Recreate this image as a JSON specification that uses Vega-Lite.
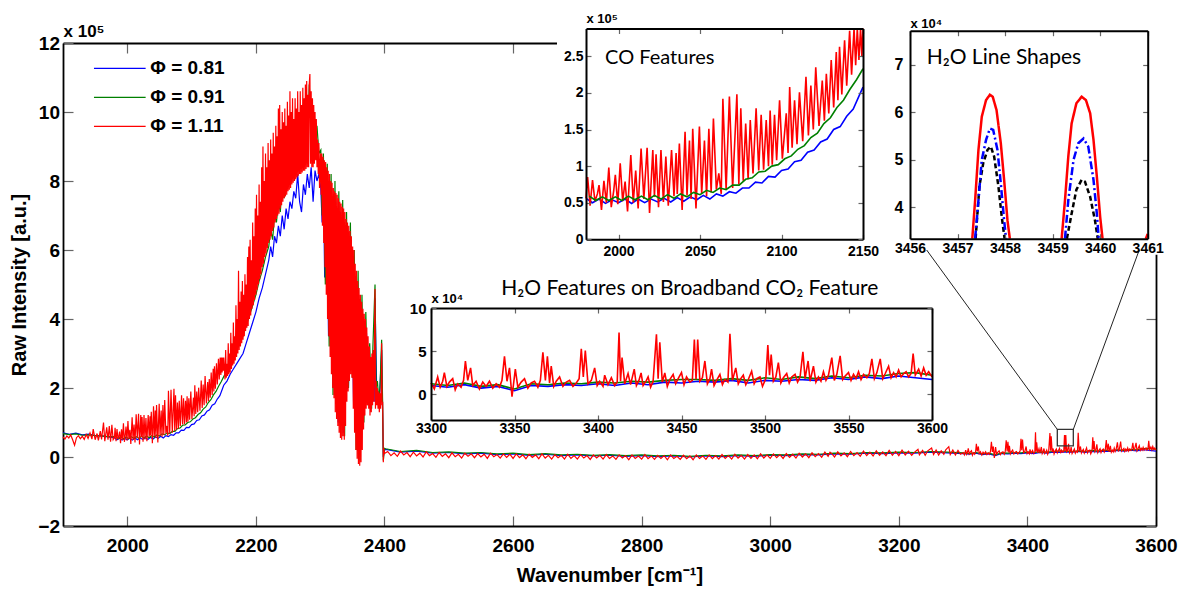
{
"$schema": "https://vega.github.io/schema/vega-lite/v6.json",
"width": 1093, "height": 483,
"autosize": {"type": "none"},
"padding": {"left": 63, "top": 43, "right": 32, "bottom": 65},
"background": "white",
"config": {
 "view": {"stroke": null},
 "font": "Liberation Sans",
 "axis": {"grid": false, "labelFlush": false, "labelOverlap": false, "domainColor": "#000", "tickColor": "#666", "tickWidth": 1.2, "labelColor": "#000", "titleColor": "#000", "labelFont": "Liberation Sans", "titleFont": "Liberation Sans", "labelFontWeight": "bold", "titleFontWeight": "bold"}
},
"datasets": {
"spec": [
{"wn":1900,"b":7.0,"g":6.8,"r":5.8},{"wn":1903,"r":5.2},{"wn":1906,"r":6.1},{"wn":1909,"r":5.5},{"wn":1910,"b":6.6,"g":6.5},{"wn":1912,"r":6.4},{"wn":1915,"r":5.0},{"wn":1918,"r":3.4},{"wn":1920,"b":6.9,"g":6.7},{"wn":1921,"r":5.6},{"wn":1924,"r":6.2},{"wn":1927,"r":5.3},{"wn":1930,"b":6.4,"g":6.3,"r":6.0},{"wn":1933,"r":5.1},{"wn":1936,"r":6.5},{"wn":1939,"r":5.4},{"wn":1940,"b":6.6,"g":6.4},{"wn":1942,"r":7.0},{"wn":1945,"r":5.2},{"wn":1947,"r":8.1},{"wn":1950,"b":6.2,"g":6.2,"r":5.0},{"wn":1953,"r":6.8},{"wn":1955,"r":4.8},{"wn":1958,"r":7.5},{"wn":1960,"b":6.1,"g":6.1,"r":5.1},{"wn":1963,"r":10.0},{"wn":1965,"r":4.6},{"wn":1968,"r":8.6},{"wn":1970,"b":5.8,"g":5.9,"r":5.0},{"wn":1972,"r":9.0},{"wn":1974,"r":4.4},{"wn":1976,"r":9.3},{"wn":1978,"r":5.0},
{"wn":1980,"b":5.6,"r":5.6},{"wn":1981,"r":8.5},{"wn":1982,"g":5.9},{"wn":1982.5,"r":4.6},{"wn":1984,"b":5.0,"r":8.1},{"wn":1985.5,"r":5.2},{"wn":1986,"g":5.3},{"wn":1987,"r":6.2},{"wn":1988,"b":5.5,"r":7.4},{"wn":1989.5,"r":4.0},{"wn":1990,"g":5.8},{"wn":1991,"r":8.0},{"wn":1992,"b":4.9},{"wn":1992.5,"r":5.0},{"wn":1994,"g":5.3,"r":9.8},{"wn":1995.5,"r":4.4},{"wn":1996,"b":5.4},{"wn":1997,"r":6.6},{"wn":1998,"g":5.8,"r":8.8},{"wn":1999.5,"r":4.8},{"wn":2000,"b":5.0},{"wn":2001,"r":10.4},{"wn":2002,"g":5.3},{"wn":2002.5,"r":5.2},{"wn":2004,"b":5.5,"r":7.9},{"wn":2005.5,"r":3.8},{"wn":2006,"g":5.9},{"wn":2007.5,"r":11.5},{"wn":2008,"b":4.9},{"wn":2009,"r":5.0},{"wn":2010,"g":5.4},{"wn":2010.5,"r":9.4},{"wn":2012,"b":5.5,"r":4.2},{"wn":2013.8,"r":12.4},{"wn":2014,"g":5.9},{"wn":2015.5,"r":5.5},{"wn":2016,"b":5.0},{"wn":2017.5,"r":12.5},{"wn":2018,"g":5.4},{"wn":2019,"r":3.6},{"wn":2020,"b":5.5},{"wn":2021,"r":12.2},{"wn":2022,"g":6.0,"r":5.8},{"wn":2023,"r":11.6},{"wn":2024,"b":5.1},{"wn":2024.5,"r":4.4},{"wn":2026,"g":5.5,"r":12.2},{"wn":2027.5,"r":5.1},{"wn":2028,"b":5.6},{"wn":2029,"r":11.3},{"wn":2030,"g":6.1},{"wn":2030.5,"r":4.6},{"wn":2032,"b":5.1},{"wn":2032.5,"r":12.2},{"wn":2034,"g":5.6,"r":5.9},{"wn":2035.3,"r":11.8},{"wn":2036,"b":5.7,"r":6.2},{"wn":2037.3,"r":13.1},{"wn":2038,"g":6.2},{"wn":2039,"r":4.0},{"wn":2040,"b":5.2},{"wn":2040.8,"r":14.7},{"wn":2042,"g":5.8,"r":6.0},{"wn":2043.5,"r":13.5},{"wn":2044,"b":5.8},{"wn":2044.5,"r":5.5},{"wn":2045.5,"r":15.1},{"wn":2046,"g":6.4},{"wn":2047.5,"r":4.2},{"wn":2048,"b":5.4},{"wn":2049.6,"r":15.4},{"wn":2050,"g":6.1},{"wn":2051,"r":6.2},{"wn":2052,"b":6.0},{"wn":2052.7,"r":13.5},{"wn":2054,"g":6.7,"r":5.9},{"wn":2055.4,"r":15.1},{"wn":2056,"b":5.5},{"wn":2056.8,"r":6.4},{"wn":2058,"g":6.4},{"wn":2058.2,"r":16.5},{"wn":2060,"b":6.2,"r":6.8},{"wn":2061.5,"r":9.0},{"wn":2062,"g":7.0},{"wn":2063,"r":6.2},{"wn":2064,"b":5.9,"r":19.2},{"wn":2066,"g":6.8,"r":6.8},{"wn":2068,"b":6.5,"r":19.5},{"wn":2070,"g":7.4,"r":7.0},{"wn":2072,"b":6.3},{"wn":2072.6,"r":19.8},{"wn":2073.8,"r":7.5},{"wn":2074,"g":7.4},{"wn":2075,"r":17.9},{"wn":2076,"b":7.0},{"wn":2076.5,"r":8.0},{"wn":2078,"g":8.2,"r":15.8},{"wn":2079.5,"r":8.2},{"wn":2080,"b":7.0},{"wn":2080.8,"r":16.3},{"wn":2082,"g":8.4},{"wn":2082.5,"r":9.0},{"wn":2084,"b":7.8},{"wn":2084.4,"r":17.9},{"wn":2086,"g":9.2,"r":9.4},{"wn":2087.5,"r":17.0},{"wn":2088,"b":7.7},{"wn":2089,"r":9.5},{"wn":2090,"g":9.3},{"wn":2090.6,"r":16.3},{"wn":2092,"b":8.6,"r":10.0},{"wn":2093,"r":17.6},{"wn":2094,"g":10.0},{"wn":2094.3,"r":10.2},{"wn":2095.7,"r":17.0},{"wn":2096,"b":8.5},{"wn":2097,"r":10.8},{"wn":2098,"g":10.2},{"wn":2098.8,"r":19.0},{"wn":2100,"b":9.4},{"wn":2100.5,"r":11.0},{"wn":2102,"g":11.0},{"wn":2102.9,"r":17.2},{"wn":2104,"b":9.6,"r":11.8},{"wn":2105,"r":20.8},{"wn":2106,"g":11.4},{"wn":2106.5,"r":12.5},{"wn":2108,"b":10.6,"r":19.0},{"wn":2109.5,"r":13.0},{"wn":2110,"g":12.3},{"wn":2111,"r":20.1},{"wn":2112,"b":10.8},{"wn":2113,"r":13.4},{"wn":2114,"g":12.8},{"wn":2115,"r":22.2},{"wn":2116,"b":11.9},{"wn":2116.5,"r":14.2},{"wn":2118,"g":13.9,"r":21.0},{"wn":2119.5,"r":15.0},{"wn":2120,"b":12.2},{"wn":2121,"r":23.5},{"wn":2122,"g":14.5},{"wn":2123,"r":15.5},{"wn":2124,"b":13.3},{"wn":2125,"r":21.7},{"wn":2126,"g":15.8},{"wn":2126.3,"r":16.2},{"wn":2127.5,"r":22.6},{"wn":2128,"b":13.7},{"wn":2129,"r":17.2},{"wn":2130,"g":16.6},{"wn":2130.5,"r":24.5},{"wn":2132,"b":15.0,"r":18.0},{"wn":2133.6,"r":25.6},{"wn":2134,"g":18.0},{"wn":2134.6,"r":19.0},{"wn":2135.6,"r":26.3},{"wn":2136,"b":15.4},{"wn":2137,"r":19.8},{"wn":2138,"g":19.0},{"wn":2138.7,"r":27.2},{"wn":2140,"b":16.8,"r":21.0},{"wn":2141.8,"r":28.5},{"wn":2142,"g":20.5},{"wn":2143,"r":22.5},{"wn":2144,"b":17.8},{"wn":2144.5,"r":28.8},{"wn":2145.5,"r":23.8},{"wn":2146,"g":21.8},{"wn":2146.5,"r":28.8},{"wn":2147.5,"r":24.5},{"wn":2148,"b":19.8},{"wn":2148.5,"r":28.8},{"wn":2149.3,"r":25.0},{"wn":2150,"b":20.8,"g":23.3,"r":28.8},
{"wn":2152,"r":22.5},{"wn":2153,"r":31},{"wn":2154,"r":23},{"wn":2155,"b":22,"g":25,"r":27},{"wn":2156,"r":23.5},{"wn":2157,"r":33},{"wn":2158,"r":24},{"wn":2159,"r":30},{"wn":2160,"b":24,"g":27,"r":24.5},{"wn":2161,"r":36},{"wn":2162,"r":25.5},{"wn":2163,"r":33},{"wn":2164,"r":26.5},{"wn":2165,"b":25.5,"g":29,"r":39},{"wn":2166,"r":27},{"wn":2167,"r":35},{"wn":2168,"r":28},{"wn":2169,"r":44},{"wn":2170,"b":27,"g":31,"r":29},{"wn":2171,"r":40},{"wn":2172,"r":30},{"wn":2173,"r":54},{"wn":2174,"r":31},{"wn":2175,"b":28.5,"g":33,"r":45},{"wn":2176,"r":32},{"wn":2177,"r":48},{"wn":2178,"r":33},{"wn":2179,"r":51},{"wn":2180,"b":30,"g":35,"r":34},{"wn":2181,"r":47},{"wn":2182,"r":35},{"wn":2183,"r":53},{"wn":2184,"r":36.5},{"wn":2185,"b":33,"g":38,"r":50},{"wn":2186,"r":37.5},{"wn":2187,"r":58},{"wn":2188,"r":38},{"wn":2189,"r":61},{"wn":2190,"b":36,"g":41,"r":40},{"wn":2191,"r":63},{"wn":2192,"r":41},{"wn":2193,"r":57},{"wn":2194,"r":43},{"wn":2195,"b":39,"g":44,"r":68},{"wn":2196,"r":44},{"wn":2197,"r":64},{"wn":2198,"r":45.5},{"wn":2199,"r":72},{"wn":2200,"b":42,"g":47,"r":47},{"wn":2201,"r":76},{"wn":2202,"r":48.5},{"wn":2203,"r":70},{"wn":2204,"r":50},{"wn":2205,"b":46,"g":51,"r":79},{"wn":2206,"r":51.5},{"wn":2207,"r":74},{"wn":2208,"r":53},{"wn":2209,"r":84},{"wn":2210,"b":49,"g":54,"r":55},{"wn":2211,"r":90},{"wn":2212,"r":56},{"wn":2213,"r":80},{"wn":2214,"r":58},{"wn":2215,"b":53,"g":58,"r":88},{"wn":2216,"r":59},{"wn":2217,"r":84},{"wn":2218,"r":60.5},{"wn":2219,"r":91},{"wn":2220,"b":57,"g":61,"r":62},{"wn":2221,"r":86},{"wn":2222,"r":63},{"wn":2223,"b":61,"g":66,"r":92},{"wn":2224,"r":64},{"wn":2225,"r":88},{"wn":2226,"b":58,"g":63,"r":65.5},{"wn":2227,"r":94},{"wn":2228,"r":66.5},{"wn":2229,"b":64,"g":70,"r":90},{"wn":2230,"r":68},{"wn":2231,"r":96},{"wn":2232,"b":62,"g":68,"r":69},{"wn":2233,"r":93},{"wn":2234,"r":70},{"wn":2235,"b":67,"g":74,"r":101},{"wn":2236,"r":70.5},{"wn":2237,"r":102},{"wn":2238,"b":64,"g":71,"r":72},{"wn":2239,"r":95},{"wn":2240,"r":73},{"wn":2241,"b":70,"g":79,"r":100},{"wn":2242,"r":74},{"wn":2243,"r":97},{"wn":2244,"b":66,"g":75,"r":75},{"wn":2245,"r":101},{"wn":2246,"r":75.5},{"wn":2247,"b":72,"g":83,"r":96},{"wn":2248,"r":76},{"wn":2249,"r":103},{"wn":2250,"b":69,"g":79,"r":77},{"wn":2251,"r":99},{"wn":2252,"r":77.5},{"wn":2253,"b":74,"g":88,"r":106},{"wn":2254,"r":78},{"wn":2255,"r":100},{"wn":2256,"b":72,"g":82,"r":79},{"wn":2257,"r":104},{"wn":2258,"r":79.5},{"wn":2259,"b":77,"g":92,"r":98},{"wn":2260,"r":80},{"wn":2261,"r":104},{"wn":2262,"b":75,"g":85,"r":80.5},{"wn":2263,"r":101},{"wn":2264,"r":81},{"wn":2265,"b":82,"g":96,"r":106},{"wn":2266,"r":81.5},{"wn":2267,"r":100},{"wn":2268,"b":74,"g":86,"r":82},{"wn":2269,"r":106},{"wn":2270,"r":82},{"wn":2271,"b":71,"g":100,"r":102},{"wn":2272,"r":82.5},{"wn":2273,"r":107},{"wn":2274,"b":79,"g":88,"r":83},{"wn":2275,"r":104},{"wn":2276,"r":83},{"wn":2277,"b":76,"g":104,"r":108},{"wn":2278,"r":83.5},{"wn":2279,"r":109},{"wn":2280,"b":82,"g":90,"r":84},{"wn":2281,"r":105},{"wn":2282,"r":84},{"wn":2283,"b":78,"g":108,"r":108},{"wn":2284,"r":111},{"wn":2285,"r":85},{"wn":2286,"b":84,"g":95,"r":106},{"wn":2287,"r":84},{"wn":2288,"r":104},{"wn":2289,"b":74,"g":100,"r":84},{"wn":2290,"r":102},{"wn":2291,"r":85},{"wn":2292,"b":83,"g":92,"r":100},{"wn":2293,"r":86},{"wn":2294,"r":98},{"wn":2295,"b":80,"g":96,"r":84},{"wn":2296,"r":92},{"wn":2297,"r":82},{"wn":2298,"b":82,"g":88,"r":91},{"wn":2299,"r":78},
{"wn":2300.5,"r":88},{"wn":2301,"b":78,"g":89},{"wn":2301.5,"r":76},{"wn":2302.5,"r":88},{"wn":2303,"b":68,"g":70},{"wn":2303.5,"r":67},{"wn":2304.5,"r":87},{"wn":2305,"b":80,"g":88},{"wn":2305.5,"r":62},{"wn":2306.5,"r":86},{"wn":2307,"b":52},{"wn":2307.5,"r":55},{"wn":2308,"g":50},{"wn":2308.5,"r":85.5},{"wn":2309.5,"r":47},{"wn":2310,"b":78},{"wn":2310.5,"r":84},{"wn":2311,"g":85},{"wn":2311.5,"r":40},{"wn":2312.5,"r":83},{"wn":2313,"b":35},{"wn":2313.5,"r":35},{"wn":2314,"g":32},{"wn":2314.5,"r":82},{"wn":2315.5,"r":29},{"wn":2316,"b":76},{"wn":2316.5,"r":80},{"wn":2317,"g":82},{"wn":2317.5,"r":24},{"wn":2318.5,"r":79.5},{"wn":2319.5,"r":20},{"wn":2320,"b":20,"g":18},{"wn":2320.5,"r":78},{"wn":2321.5,"r":17},{"wn":2322.5,"r":77},{"wn":2323,"g":80},{"wn":2323.5,"r":13},{"wn":2324,"b":74},{"wn":2324.5,"r":76.5},{"wn":2325.5,"r":11},{"wn":2326,"g":12},{"wn":2326.5,"r":76},{"wn":2327.5,"r":9},{"wn":2328,"b":10},{"wn":2328.5,"r":75},{"wn":2329,"g":77},{"wn":2329.5,"r":7},{"wn":2330.5,"r":74},{"wn":2331.5,"r":5.5},{"wn":2332,"b":71,"g":6},{"wn":2332.5,"r":73.5},{"wn":2333.5,"r":5},{"wn":2334.5,"r":72.5},{"wn":2335,"g":74.5},{"wn":2335.5,"r":6},{"wn":2336,"b":7},{"wn":2336.5,"r":72},{"wn":2337.5,"r":5},{"wn":2338,"g":6},{"wn":2338.5,"r":71},{"wn":2339.5,"r":9},{"wn":2340,"b":67},{"wn":2340.5,"r":69},{"wn":2341,"g":71},{"wn":2341.5,"r":16},{"wn":2342.5,"r":68},{"wn":2343.5,"r":19},{"wn":2344,"b":20,"g":20},{"wn":2344.5,"r":67},{"wn":2345.5,"r":22},{"wn":2346.5,"r":65.5},{"wn":2347,"g":68},{"wn":2347.5,"r":24},{"wn":2348,"b":62},{"wn":2348.5,"r":64},{"wn":2349.5,"r":23},{"wn":2350,"g":23},{"wn":2350.5,"r":61},{"wn":2351.5,"r":14},{"wn":2352,"b":15},{"wn":2352.5,"r":60},{"wn":2353,"g":60},{"wn":2353.5,"r":7},{"wn":2354.5,"r":56},{"wn":2355.5,"r":2},{"wn":2356,"b":52,"g":2},{"wn":2356.5,"r":54},{"wn":2357.5,"r":-0.5},{"wn":2358.5,"r":51},{"wn":2359,"g":54},{"wn":2359.5,"r":-2},{"wn":2360,"b":2},{"wn":2360.5,"r":49},{"wn":2361.5,"r":-2.5},{"wn":2362,"g":-1},{"wn":2362.5,"r":47},{"wn":2363.5,"r":-1.5},{"wn":2364,"b":44},{"wn":2364.5,"r":45},{"wn":2365,"g":47},{"wn":2365.5,"r":2},{"wn":2366.5,"r":43},{"wn":2367.5,"r":8},{"wn":2368,"b":12,"g":10},{"wn":2368.5,"r":41.5},{"wn":2369.5,"r":12},{"wn":2370.5,"r":40},{"wn":2371,"g":42},{"wn":2371.5,"r":14},{"wn":2372,"b":36},{"wn":2372.5,"r":37.5},{"wn":2373.5,"r":15},{"wn":2374,"g":15},{"wn":2374.5,"r":35},{"wn":2375.5,"r":14},{"wn":2376,"b":15},{"wn":2376.5,"r":32},{"wn":2377,"g":33},{"wn":2377.5,"r":12},{"wn":2378.5,"r":29},{"wn":2379.5,"r":13},{"wn":2380,"b":28,"g":14},{"wn":2380.5,"r":30},{"wn":2381.5,"r":15},{"wn":2382,"g":32},{"wn":2382.5,"r":31},{"wn":2383.5,"r":16},{"wn":2384,"b":16},{"wn":2384.5,"r":35},{"wn":2385.3,"b":46,"g":50,"r":48.7},{"wn":2386,"r":14},{"wn":2387,"g":20,"r":22},{"wn":2388,"b":18,"r":15},{"wn":2389,"g":22,"r":20},{"wn":2390,"r":14},{"wn":2391,"g":17,"r":19},{"wn":2392,"b":16,"r":13},{"wn":2393,"g":20,"r":18.5},{"wn":2394,"r":14},{"wn":2395,"r":20},{"wn":2395.6,"b":31,"g":34,"r":33},{"wn":2396.3,"r":15},{"wn":2397,"g":17},{"wn":2397.2,"r":16},{"wn":2398.2,"b":0,"g":-1,"r":-1.5},{"wn":2399,"r":2.5},{"wn":2400,"b":2,"g":2.5,"r":1.0},
{"wn":2402,"b":2.2,"g":2.4},{"wn":2405,"r":1.6},{"wn":2410,"r":0.4},{"wn":2415,"r":1.2},{"wn":2420,"r":0.2},{"wn":2425,"b":1.4,"g":1.6,"r":1.7},{"wn":2430,"r":0.6},{"wn":2435,"r":1.3},{"wn":2440,"r":0.1},{"wn":2445,"r":1.4},{"wn":2450,"b":1.7,"g":1.9,"r":0.3},{"wn":2455,"r":1.1},{"wn":2460,"r":0.0},{"wn":2465,"r":1.5},{"wn":2470,"r":0.4},{"wn":2475,"b":1.1,"g":1.3,"r":1.0},{"wn":2480,"r":-0.1},{"wn":2485,"r":1.3},{"wn":2490,"r":0.2},{"wn":2495,"r":0.9},{"wn":2500,"b":1.3,"g":1.5,"r":-0.2},{"wn":2505,"r":1.2},{"wn":2510,"r":0.1},{"wn":2515,"r":0.8},{"wn":2520,"r":-0.3},{"wn":2525,"b":0.9,"g":1.1,"r":1.1},{"wn":2530,"r":0.2},{"wn":2535,"r":0.9},{"wn":2540,"r":-0.2},{"wn":2545,"r":1.0},{"wn":2550,"b":1.1,"g":1.3,"r":0.0},{"wn":2555,"r":0.8},{"wn":2560,"r":-0.4},{"wn":2565,"r":1.1},{"wn":2570,"r":0.1},{"wn":2575,"b":0.7,"g":0.9,"r":0.7},{"wn":2580,"r":-0.3},{"wn":2585,"r":0.9},{"wn":2590,"r":-0.1},{"wn":2595,"r":0.8},{"wn":2600,"b":0.9,"g":1.1,"r":-0.4},{"wn":2605,"r":0.9},{"wn":2610,"r":-0.2},{"wn":2615,"r":0.6},{"wn":2620,"r":-0.5},{"wn":2625,"b":0.5,"g":0.7,"r":0.8},{"wn":2630,"r":-0.1},{"wn":2635,"r":0.6},{"wn":2640,"r":-0.5},{"wn":2645,"r":0.9},{"wn":2650,"b":0.8,"g":1.0,"r":-0.3},{"wn":2655,"r":0.5},{"wn":2660,"r":-0.6},{"wn":2665,"r":0.7},{"wn":2670,"r":-0.2},{"wn":2675,"b":0.4,"g":0.6,"r":0.5},{"wn":2680,"r":-0.6},{"wn":2685,"r":0.8},{"wn":2690,"r":-0.4},{"wn":2695,"r":0.4},{"wn":2700,"b":0.6,"g":0.8,"r":-0.6},{"wn":2705,"r":0.7},{"wn":2710,"r":-0.3},{"wn":2715,"r":0.4},{"wn":2720,"r":-0.7},{"wn":2725,"b":0.3,"g":0.5,"r":0.6},{"wn":2730,"r":-0.3},{"wn":2735,"r":0.5},{"wn":2740,"r":-0.6},{"wn":2745,"r":0.7},{"wn":2750,"b":0.5,"g":0.7,"r":-0.4},{"wn":2755,"r":0.3},{"wn":2760,"r":-0.7},{"wn":2765,"r":0.6},{"wn":2770,"r":-0.3},{"wn":2775,"b":0.2,"g":0.4,"r":0.4},{"wn":2780,"r":-0.8},{"wn":2785,"r":0.6},{"wn":2790,"r":-0.4},{"wn":2795,"r":0.3},{"wn":2800,"b":0.4,"g":0.6,"r":-0.6},{"wn":2805,"r":0.7},{"wn":2810,"r":-0.5},{"wn":2815,"r":0.3},{"wn":2820,"r":-0.7},{"wn":2825,"b":0.1,"g":0.3,"r":0.5},{"wn":2830,"r":-0.4},{"wn":2835,"r":0.4},{"wn":2840,"r":-0.8},{"wn":2845,"r":0.6},{"wn":2850,"b":0.3,"g":0.5,"r":-0.4},{"wn":2855,"r":0.2},{"wn":2860,"r":-0.7},{"wn":2865,"r":0.5},{"wn":2870,"r":-0.5},{"wn":2875,"b":0.0,"g":0.2,"r":0.3},{"wn":2880,"r":-0.8},{"wn":2885,"r":0.6},{"wn":2890,"r":-0.4},{"wn":2895,"r":0.3},{"wn":2900,"b":0.3,"g":0.5,"r":-0.7},{"wn":2905,"r":0.6},{"wn":2910,"r":-0.5},{"wn":2915,"r":0.4},{"wn":2920,"r":-0.6},{"wn":2925,"b":0.1,"g":0.3,"r":0.7},{"wn":2930,"r":-0.4},{"wn":2935,"r":0.4},{"wn":2940,"r":-0.6},{"wn":2945,"r":0.8},{"wn":2950,"b":0.4,"g":0.6,"r":-0.3},{"wn":2955,"r":0.5},{"wn":2960,"r":-0.6},{"wn":2965,"r":0.7},{"wn":2970,"r":-0.4},{"wn":2975,"b":0.2,"g":0.4,"r":0.6},{"wn":2980,"r":-0.5},{"wn":2985,"r":0.9},{"wn":2990,"r":-0.3},{"wn":2995,"r":0.6},{"wn":3000,"b":0.5,"g":0.7,"r":-0.4},{"wn":3005,"r":0.9},{"wn":3010,"r":-0.2},{"wn":3015,"r":0.7},{"wn":3020,"r":-0.4},{"wn":3025,"b":0.4,"g":0.6,"r":1.0},{"wn":3030,"r":-0.1},{"wn":3035,"r":0.8},{"wn":3040,"r":-0.3},{"wn":3045,"r":1.1},{"wn":3050,"b":0.7,"g":0.9,"r":0.0},{"wn":3055,"r":0.9},{"wn":3060,"r":-0.2},{"wn":3065,"r":1.2},{"wn":3070,"r":0.1},{"wn":3075,"b":0.6,"g":0.8,"r":1.0},{"wn":3080,"r":-0.1},{"wn":3085,"r":1.4},{"wn":3090,"r":0.2},{"wn":3093,"r":1.4},{"wn":3095,"r":1.1},{"wn":3100,"b":0.9,"g":1.1,"r":0.0},{"wn":3105,"r":1.5},{"wn":3110,"r":0.3},{"wn":3115,"r":1.2},{"wn":3120,"r":0.1},{"wn":3125,"b":0.8,"g":1.0,"r":1.6},{"wn":3130,"r":0.4},{"wn":3135,"r":1.3},{"wn":3140,"r":0.2},{"wn":3145,"r":1.7},{"wn":3150,"b":1.1,"g":1.3,"r":0.4},{"wn":3155,"r":1.4},{"wn":3160,"r":0.3},{"wn":3165,"r":1.8},{"wn":3170,"r":0.5},{"wn":3175,"b":1.0,"g":1.2,"r":1.5},{"wn":3180,"r":0.4},{"wn":3185,"r":1.9},{"wn":3190,"r":0.5},{"wn":3195,"r":1.6},{"wn":3200,"b":1.2,"g":1.4,"r":0.4},{"wn":3205,"r":2.0},{"wn":3210,"r":0.6},{"wn":3215,"r":1.7},{"wn":3220,"r":0.5},{"wn":3225,"b":1.1,"g":1.3,"r":1.5},{"wn":3229.8,"r":2.2},{"wn":3232,"r":0.6},{"wn":3237,"r":1.9},{"wn":3241,"r":0.5},{"wn":3245,"r":1.8},{"wn":3250,"b":1.4,"g":1.6},{"wn":3251,"r":2.6},{"wn":3254,"r":0.7},{"wn":3258,"r":2.0},{"wn":3262,"r":0.6},{"wn":3266,"r":1.8},{"wn":3270,"r":0.8},{"wn":3273,"r":2.1},{"wn":3275,"b":1.2,"g":1.4},{"wn":3277.7,"r":3.0},{"wn":3280,"r":0.7},{"wn":3284,"r":2.0},{"wn":3288,"r":0.6},{"wn":3292,"r":1.9},{"wn":3296,"r":0.8},
{"wn":3300,"b":1.0,"g":1.2,"r":1.3},{"wn":3302,"r":0.6},{"wn":3304,"r":2.0},{"wn":3305.5,"r":0.8},{"wn":3307,"r":1.5},{"wn":3308,"r":2.5},{"wn":3309.5,"r":0.9},{"wn":3310,"b":0.8,"g":1.0},{"wn":3311,"r":1.4},{"wn":3313,"r":1.8},{"wn":3314.5,"r":0.5},{"wn":3316,"r":1.2},{"wn":3318,"r":0.8},{"wn":3319.5,"r":1.6},{"wn":3320,"b":1.1,"g":1.3},{"wn":3320.6,"r":3.85},{"wn":3322,"r":1.6},{"wn":3323.7,"r":3.05},{"wn":3325,"r":1.0},{"wn":3327,"r":1.5},{"wn":3329,"r":0.6},{"wn":3330,"b":0.7,"g":0.9},{"wn":3331,"r":1.4},{"wn":3333,"r":0.9},{"wn":3335,"r":1.5},{"wn":3337,"r":0.7},{"wn":3339,"r":1.2},{"wn":3340,"b":0.9,"g":1.1},{"wn":3341,"r":0.8},{"wn":3342.5,"r":1.6},{"wn":3344,"r":4.4},{"wn":3345.5,"r":1.5},{"wn":3347,"r":3.05},{"wn":3348.5,"r":-0.3},{"wn":3350,"b":0.4,"g":0.6},{"wn":3350.5,"r":2.9},{"wn":3352,"r":0.8},{"wn":3354,"r":1.4},{"wn":3356,"r":1.8},{"wn":3358,"r":0.7},{"wn":3360,"b":1.0,"g":1.2,"r":1.3},{"wn":3362,"r":1.5},{"wn":3364,"r":0.8},{"wn":3365.5,"r":1.6},{"wn":3367,"r":4.85},{"wn":3368.5,"r":1.6},{"wn":3369.7,"r":4.4},{"wn":3370,"b":0.9,"g":1.1},{"wn":3371,"r":1.3},{"wn":3372,"r":3.25},{"wn":3373.5,"r":0.9},{"wn":3375,"r":1.5},{"wn":3377,"r":2.0},{"wn":3379,"r":0.9},{"wn":3380,"b":1.1,"g":1.3},{"wn":3381,"r":1.4},{"wn":3383,"r":1.6},{"wn":3385,"r":0.9},{"wn":3387,"r":1.3},{"wn":3388.7,"r":1.8},{"wn":3390,"b":1.0,"g":1.2,"r":5.25},{"wn":3391.2,"r":2.0},{"wn":3392.4,"r":5.05},{"wn":3394,"r":1.2},{"wn":3396,"r":1.6},{"wn":3398,"r":3.05},{"wn":3399.5,"r":1.0},{"wn":3400,"b":1.2,"g":1.4},{"wn":3401,"r":1.5},{"wn":3403,"r":0.9},{"wn":3404,"r":2.2},{"wn":3406,"r":1.1},{"wn":3408,"r":1.9},{"wn":3410,"b":1.0,"g":1.3,"r":1.0},{"wn":3411.5,"r":1.4},{"wn":3412.6,"r":7.14},{"wn":3413.5,"r":1.5},{"wn":3414.4,"r":4.25},{"wn":3416,"r":1.2},{"wn":3418,"r":2.4},{"wn":3419.5,"r":1.1},{"wn":3420,"b":1.3,"g":1.5},{"wn":3421.7,"r":2.9},{"wn":3423,"r":1.0},{"wn":3424.5,"r":1.6},{"wn":3425.8,"r":2.46},{"wn":3427,"r":1.0},{"wn":3429,"r":1.6},{"wn":3430,"b":1.1,"g":1.4,"r":2.0},{"wn":3431.5,"r":0.8},{"wn":3433,"r":1.5},{"wn":3435,"r":6.94},{"wn":3436,"r":1.8},{"wn":3437,"r":6.03},{"wn":3438.5,"r":1.4},{"wn":3440,"b":1.4,"g":1.6,"r":2.46},{"wn":3441.5,"r":0.9},{"wn":3443,"r":1.7},{"wn":3445,"r":2.3},{"wn":3446.5,"r":1.2},{"wn":3448,"r":1.8},{"wn":3450,"b":1.3,"g":1.7,"r":2.5},{"wn":3451.5,"r":1.1},{"wn":3453,"r":2.0},{"wn":3455,"r":1.4},{"wn":3456.5,"r":1.6},{"wn":3457.7,"r":6.35},{"wn":3458.7,"r":1.7},{"wn":3459.7,"r":6.35},{"wn":3460,"b":1.5,"g":1.7},{"wn":3461,"r":1.5},{"wn":3462.5,"r":1.9},{"wn":3464,"r":3.85},{"wn":3465.5,"r":1.2},{"wn":3467,"r":1.8},{"wn":3468,"r":2.9},{"wn":3469.5,"r":1.0},{"wn":3470,"b":1.4,"g":1.6},{"wn":3471,"r":1.6},{"wn":3473,"r":2.3},{"wn":3474.5,"r":1.1},{"wn":3476,"r":1.7},{"wn":3477.8,"r":1.4},{"wn":3479,"r":7.0},{"wn":3480,"b":1.6,"g":1.8},{"wn":3480.5,"r":1.6},{"wn":3482.5,"r":3.05},{"wn":3484,"r":1.2},{"wn":3485.5,"r":1.8},{"wn":3487,"r":2.2},{"wn":3488.5,"r":1.1},{"wn":3490,"b":1.3,"g":1.6,"r":1.7},{"wn":3492,"r":2.66},{"wn":3493.5,"r":1.2},{"wn":3495,"r":1.8},{"wn":3497,"r":2.0},{"wn":3498.5,"r":0.9},{"wn":3500,"b":1.6,"g":1.9},{"wn":3500.5,"r":1.8},{"wn":3501.7,"r":5.7},{"wn":3502.7,"r":2.2},{"wn":3503.7,"r":4.6},{"wn":3505,"r":1.5},{"wn":3506.5,"r":2.0},{"wn":3508,"r":3.65},{"wn":3509.5,"r":1.3},{"wn":3510,"b":1.5,"g":1.7},{"wn":3511,"r":1.9},{"wn":3513,"r":2.4},{"wn":3514.5,"r":1.3},{"wn":3516,"r":2.0},{"wn":3518,"r":2.3},{"wn":3519.5,"r":1.4},{"wn":3520,"b":1.7,"g":2.0},{"wn":3521,"r":2.0},{"wn":3522.7,"r":4.9},{"wn":3524,"r":1.8},{"wn":3525.8,"r":3.85},{"wn":3527,"r":1.5},{"wn":3529,"r":3.25},{"wn":3530,"b":1.6,"g":1.8},{"wn":3530.5,"r":1.4},{"wn":3532,"r":2.0},{"wn":3533.5,"r":1.5},{"wn":3535,"r":2.6},{"wn":3536.5,"r":1.6},{"wn":3538,"r":2.2},{"wn":3540,"b":1.9,"g":2.1,"r":4.25},{"wn":3541.5,"r":1.6},{"wn":3543,"r":2.3},{"wn":3545,"r":4.45},{"wn":3546.5,"r":1.7},{"wn":3548,"r":2.1},{"wn":3550,"b":1.7,"g":1.9,"r":2.5},{"wn":3551.5,"r":1.6},{"wn":3553,"r":2.3},{"wn":3554.5,"r":1.8},{"wn":3556,"r":2.6},{"wn":3557.5,"r":1.7},{"wn":3559,"r":2.3},{"wn":3560,"b":2.0,"g":2.2},{"wn":3561,"r":1.9},{"wn":3562.5,"r":2.4},{"wn":3564,"r":4.1},{"wn":3565.5,"r":1.8},{"wn":3567,"r":2.5},{"wn":3569,"r":4.1},{"wn":3570,"b":1.8,"g":2.1},{"wn":3570.5,"r":1.8},{"wn":3572,"r":2.4},{"wn":3574,"r":3.25},{"wn":3575.5,"r":1.9},{"wn":3577,"r":2.5},{"wn":3578.5,"r":2.0},{"wn":3580,"b":2.1,"g":2.4,"r":2.8},{"wn":3581.5,"r":2.0},{"wn":3583,"r":2.4},{"wn":3584.5,"r":2.6},{"wn":3586,"r":2.0},{"wn":3587.5,"r":2.4},{"wn":3588.7,"r":4.7},{"wn":3590,"b":1.9,"g":2.5,"r":2.2},{"wn":3592,"r":2.9},{"wn":3593.5,"r":2.1},{"wn":3595,"r":3.05},{"wn":3596.5,"r":2.2},{"wn":3598,"r":2.6},{"wn":3600,"b":1.7,"g":2.2,"r":2.0}
],
"ls": [
{"s":"k","pk":1,"wn":3457.38,"I":3.34},{"s":"k","pk":1,"wn":3457.46,"I":4.44},{"s":"k","pk":1,"wn":3457.54,"I":4.93},{"s":"k","pk":1,"wn":3457.63,"I":5.21},{"s":"k","pk":1,"wn":3457.7,"I":5.28},{"s":"k","pk":1,"wn":3457.77,"I":5.07},{"s":"k","pk":1,"wn":3457.86,"I":4.44},{"s":"k","pk":1,"wn":3457.93,"I":3.8},{"s":"k","pk":1,"wn":3457.99,"I":3.34},
{"s":"k","pk":2,"wn":3459.3,"I":3.34},{"s":"k","pk":2,"wn":3459.4,"I":3.87},{"s":"k","pk":2,"wn":3459.5,"I":4.37},{"s":"k","pk":2,"wn":3459.61,"I":4.58},{"s":"k","pk":2,"wn":3459.68,"I":4.54},{"s":"k","pk":2,"wn":3459.79,"I":4.22},{"s":"k","pk":2,"wn":3459.89,"I":3.73},{"s":"k","pk":2,"wn":3459.95,"I":3.34},
{"s":"b","pk":1,"wn":3457.37,"I":3.34},{"s":"b","pk":1,"wn":3457.44,"I":4.15},{"s":"b","pk":1,"wn":3457.51,"I":5.0},{"s":"b","pk":1,"wn":3457.6,"I":5.42},{"s":"b","pk":1,"wn":3457.68,"I":5.66},{"s":"b","pk":1,"wn":3457.75,"I":5.63},{"s":"b","pk":1,"wn":3457.84,"I":5.21},{"s":"b","pk":1,"wn":3457.91,"I":4.5},{"s":"b","pk":1,"wn":3457.98,"I":3.73},{"s":"b","pk":1,"wn":3458.02,"I":3.34},
{"s":"b","pk":2,"wn":3459.26,"I":3.34},{"s":"b","pk":2,"wn":3459.33,"I":4.15},{"s":"b","pk":2,"wn":3459.44,"I":5.0},{"s":"b","pk":2,"wn":3459.54,"I":5.35},{"s":"b","pk":2,"wn":3459.65,"I":5.45},{"s":"b","pk":2,"wn":3459.75,"I":5.28},{"s":"b","pk":2,"wn":3459.86,"I":4.58},{"s":"b","pk":2,"wn":3459.93,"I":3.87},{"s":"b","pk":2,"wn":3459.97,"I":3.34},
{"s":"r","pk":1,"wn":3457.31,"I":3.34},{"s":"r","pk":1,"wn":3457.37,"I":4.15},{"s":"r","pk":1,"wn":3457.44,"I":5.21},{"s":"r","pk":1,"wn":3457.51,"I":5.91},{"s":"r","pk":1,"wn":3457.6,"I":6.26},{"s":"r","pk":1,"wn":3457.68,"I":6.37},{"s":"r","pk":1,"wn":3457.74,"I":6.33},{"s":"r","pk":1,"wn":3457.82,"I":6.05},{"s":"r","pk":1,"wn":3457.91,"I":5.35},{"s":"r","pk":1,"wn":3457.98,"I":4.58},{"s":"r","pk":1,"wn":3458.05,"I":3.73},{"s":"r","pk":1,"wn":3458.1,"I":3.34},
{"s":"r","pk":2,"wn":3459.19,"I":3.34},{"s":"r","pk":2,"wn":3459.26,"I":4.15},{"s":"r","pk":2,"wn":3459.33,"I":5.07},{"s":"r","pk":2,"wn":3459.4,"I":5.77},{"s":"r","pk":2,"wn":3459.5,"I":6.19},{"s":"r","pk":2,"wn":3459.61,"I":6.33},{"s":"r","pk":2,"wn":3459.7,"I":6.26},{"s":"r","pk":2,"wn":3459.79,"I":5.98},{"s":"r","pk":2,"wn":3459.86,"I":5.42},{"s":"r","pk":2,"wn":3459.93,"I":4.65},{"s":"r","pk":2,"wn":3460.0,"I":3.8},{"s":"r","pk":2,"wn":3460.05,"I":3.34},
{"s":"r","pk":3,"wn":3460.96,"I":3.34},{"s":"r","pk":3,"wn":3461.0,"I":3.44}
]
},
"resolve": {"scale": {"x": "independent", "y": "independent", "color": "independent", "strokeDash": "independent"}},
"layer": [
{
 "resolve": {"axis": {"x": "independent", "y": "independent"}},
 "layer": [
  {
   "data": {"name": "spec"},
   "transform": [{"fold": ["b", "g", "r"], "as": ["ser", "I"]}, {"filter": "isValid(datum.I)"}],
   "mark": {"type": "line", "strokeWidth": 1.2},
   "encoding": {
    "x": {"field": "wn", "type": "quantitative", "scale": {"domain": [1900, 3600], "nice": false, "zero": false},
          "axis": {"orient": "bottom", "values": [2000,2200,2400,2600,2800,3000,3200,3400,3600], "format": "d", "title": "Wavenumber [cm⁻¹]", "labelFontSize": 19, "titleFontSize": 20, "tickSize": -10, "labelPadding": 20.5, "titlePadding": 10, "domainWidth": 1.8, "zindex": 0}},
    "y": {"field": "I", "type": "quantitative", "scale": {"domain": [-20, 120], "nice": false, "zero": false},
          "axis": {"orient": "left", "values": [-20,0,20,40,60,80,100,120], "labelExpr": "datum.value < 0 ? '−' + abs(datum.value) / 10 : '' + datum.value / 10", "title": "Raw Intensity [a.u.]", "labelFontSize": 19, "titleFontSize": 20, "tickSize": -10, "labelPadding": 13.5, "titlePadding": 8, "domainWidth": 1.8, "zindex": 0}},
    "color": {"field": "ser", "type": "nominal", "scale": {"domain": ["b", "g", "r"], "range": ["#0000ff", "#008000", "#ff0000"]},
              "legend": {"orient": "none", "legendX": 30.3, "legendY": 10.8, "title": null, "symbolType": "stroke", "symbolSize": 2670, "symbolStrokeWidth": 1.3, "labelExpr": "datum.label == 'b' ? 'Φ = 0.81' : datum.label == 'g' ? 'Φ = 0.91' : 'Φ = 1.11'", "labelFontSize": 19, "labelFont": "Liberation Sans", "labelFontWeight": "bold", "labelColor": "#000", "labelOffset": 4, "clipHeight": 29, "rowPadding": 0, "padding": 0}}
   }
  },
  {
   "data": {"values": [{"x1": 3446.5, "x2": 3471.4, "y1": 3.2, "y2": 8.0}]},
   "mark": {"type": "rect", "fill": "transparent", "stroke": "#333", "strokeWidth": 1.3},
   "encoding": {
    "x": {"field": "x1", "type": "quantitative", "axis": {"orient": "top", "values": [2000,2200,2400,2600,2800,3000,3200,3400,3600], "labels": false, "tickSize": -10, "title": "x 10⁵", "titleAnchor": "start", "titleFontSize": 17, "titlePadding": 6, "titleBaseline": "alphabetic", "domainWidth": 1.8, "zindex": 0}},
    "x2": {"field": "x2"},
    "y": {"field": "y1", "type": "quantitative", "axis": {"orient": "right", "values": [-20,0,20,40,60,80,100,120], "labels": false, "tickSize": -10, "title": null, "domainWidth": 1.8, "zindex": 0}},
    "y2": {"field": "y2"}
   }
  }
 ]
},
{
 "resolve": {"axis": {"x": "independent", "y": "independent"}},
 "layer": [
  {
   "data": {"values": [{"x1": 1962.2, "x2": 2161.7, "y1": -3.1, "y2": 32.7}]},
   "mark": {"type": "rect", "fill": "white", "strokeWidth": 0},
   "encoding": {
    "x": {"field": "x1", "type": "quantitative", "scale": {"domain": [1980, 2150], "range": [523, 800], "nice": false, "zero": false},
          "axis": {"orient": "bottom", "offset": -286.7, "values": [2000, 2050, 2100, 2150], "format": "d", "labelFontSize": 14, "tickSize": -5, "labelPadding": 10.2, "title": null, "domainWidth": 2, "zindex": 2}},
    "x2": {"field": "x2"},
    "y": {"field": "y1", "type": "quantitative", "scale": {"domain": [0, 28.8], "range": [196.3, -14.5], "nice": false, "zero": false},
          "axis": {"orient": "left", "offset": -523, "values": [0, 5, 10, 15, 20, 25], "labelExpr": "'' + datum.value / 10", "labelFontSize": 14, "tickSize": -5, "labelPadding": 8, "title": null, "domainWidth": 2, "zindex": 2}},
    "y2": {"field": "y2"}
   }
  },
  {
   "data": {"name": "spec"},
   "transform": [{"filter": "datum.wn >= 1980 && datum.wn <= 2150"}, {"fold": ["b", "g", "r"], "as": ["ser", "I"]}, {"filter": "isValid(datum.I)"}],
   "mark": {"type": "line", "strokeWidth": 1.6},
   "encoding": {
    "x": {"field": "wn", "type": "quantitative", "axis": {"orient": "top", "offset": 14.5, "values": [2000, 2050, 2100, 2150], "labels": false, "tickSize": -5, "title": "x 10⁵", "titleAnchor": "start", "titleFontSize": 13, "titlePadding": 5, "titleBaseline": "alphabetic", "domainWidth": 2, "zindex": 2}},
    "y": {"field": "I", "type": "quantitative", "axis": {"orient": "right", "offset": -293, "values": [0, 5, 10, 15, 20, 25], "labels": false, "tickSize": -5, "title": null, "domainWidth": 2, "zindex": 2}},
    "color": {"field": "ser", "type": "nominal", "scale": {"domain": ["b", "g", "r"], "range": ["#0000ff", "#008000", "#ff0000"]}, "legend": null}
   }
  },
  {
   "data": {"values": [{"x": 1991.7, "y": 24.8, "t": "CO Features"}]},
   "mark": {"type": "text", "align": "left", "baseline": "middle", "font": "Lato", "fontSize": 20, "color": "#000"},
   "encoding": {
    "x": {"field": "x", "type": "quantitative", "axis": null},
    "y": {"field": "y", "type": "quantitative", "axis": null},
    "text": {"field": "t"}
   }
  }
 ]
},
{
 "resolve": {"axis": {"x": "independent", "y": "independent"}},
 "layer": [
  {
   "data": {"name": "spec"},
   "transform": [{"filter": "datum.wn >= 3300 && datum.wn <= 3600"}, {"fold": ["b", "g", "r"], "as": ["ser", "I"]}, {"filter": "isValid(datum.I)"}],
   "mark": {"type": "line", "strokeWidth": 1.6},
   "encoding": {
    "x": {"field": "wn", "type": "quantitative", "scale": {"domain": [3300, 3600], "range": [368, 869], "nice": false, "zero": false},
          "axis": {"orient": "bottom", "offset": -106, "values": [3300, 3350, 3400, 3450, 3500, 3550, 3600], "format": "d", "labelFontSize": 14, "tickSize": -5, "labelPadding": 6, "title": null, "domainWidth": 2, "zindex": 2}},
    "y": {"field": "I", "type": "quantitative", "scale": {"domain": [-3, 10], "range": [377, 265], "nice": false, "zero": false},
          "axis": {"orient": "left", "offset": -368, "values": [0, 5, 10], "format": "d", "labelFontSize": 15, "tickSize": -5, "labelPadding": 10, "title": null, "domainWidth": 2, "zindex": 2}},
    "color": {"field": "ser", "type": "nominal", "scale": {"domain": ["b", "g", "r"], "range": ["#0000ff", "#008000", "#ff0000"]}, "legend": null}
   }
  },
  {
   "data": {"values": [{"x": 3455, "y": 12.2, "t": "H₂O Features on Broadband CO₂ Feature"}]},
   "mark": {"type": "text", "align": "center", "baseline": "middle", "font": "Lato", "fontSize": 21, "color": "#000"},
   "encoding": {
    "x": {"field": "x", "type": "quantitative", "axis": {"orient": "top", "offset": -265, "values": [3300, 3350, 3400, 3450, 3500, 3550, 3600], "labels": false, "tickSize": -5, "title": "x 10⁴", "titleAnchor": "start", "titleFontSize": 13, "titlePadding": 5, "titleBaseline": "alphabetic", "domainWidth": 2, "zindex": 2}},
    "y": {"field": "y", "type": "quantitative", "axis": {"orient": "right", "offset": -224, "values": [0, 5, 10], "labels": false, "tickSize": -5, "title": null, "domainWidth": 2, "zindex": 2}},
    "text": {"field": "t"}
   }
  }
 ]
},
{
 "resolve": {"axis": {"x": "independent", "y": "independent"}},
 "layer": [
  {
   "data": {"values": [{"x1": 3455.41, "x2": 3461.85, "y1": 3.0, "y2": 8.37}]},
   "mark": {"type": "rect", "fill": "white", "strokeWidth": 0},
   "encoding": {
    "x": {"field": "x1", "type": "quantitative", "scale": {"domain": [3456, 3461], "range": [847, 1084.7], "nice": false, "zero": false},
          "axis": {"orient": "bottom", "offset": -287.3, "values": [3456, 3457, 3458, 3459, 3460, 3461], "format": "d", "labelFontSize": 14, "tickSize": -5, "labelPadding": 7.6, "title": null, "domainWidth": 2, "zindex": 2}},
    "x2": {"field": "x2"},
    "y": {"field": "y1", "type": "quantitative", "scale": {"domain": [3.34, 7.72], "range": [195.7, -12.3], "nice": false, "zero": false},
          "axis": {"orient": "left", "offset": -847, "values": [4, 5, 6, 7], "format": "d", "labelFontSize": 16, "tickSize": -5, "labelPadding": 12, "title": null, "domainWidth": 2, "zindex": 2}},
    "y2": {"field": "y2"}
   }
  },
  {
   "data": {"name": "ls"},
   "mark": {"type": "line", "strokeWidth": 2.5},
   "encoding": {
    "x": {"field": "wn", "type": "quantitative", "axis": {"orient": "top", "offset": 12.3, "values": [3456, 3457, 3458, 3459, 3460, 3461], "labels": false, "tickSize": -5, "title": "x 10⁴", "titleAnchor": "start", "titleFontSize": 13, "titlePadding": 3, "titleBaseline": "alphabetic", "domainWidth": 2, "zindex": 2}},
    "y": {"field": "I", "type": "quantitative", "axis": {"orient": "right", "offset": -8.3, "values": [4, 5, 6, 7], "labels": false, "tickSize": -5, "title": null, "domainWidth": 2, "zindex": 2}},
    "color": {"field": "s", "type": "nominal", "scale": {"domain": ["k", "b", "r"], "range": ["#000000", "#0000ff", "#ff0000"]}, "legend": null},
    "strokeDash": {"field": "s", "type": "nominal", "scale": {"domain": ["k", "b", "r"], "range": [[5, 3], [8, 3, 2, 3], [1, 0]]}, "legend": null},
    "detail": {"field": "pk"}
   }
  },
  {
   "data": {"values": [{"x": 3456.35, "y": 7.145, "t": "H₂O Line Shapes"}]},
   "mark": {"type": "text", "align": "left", "baseline": "middle", "font": "Lato", "fontSize": 21, "color": "#000"},
   "encoding": {
    "x": {"field": "x", "type": "quantitative", "axis": null},
    "y": {"field": "y", "type": "quantitative", "axis": null},
    "text": {"field": "t"}
   }
  }
 ]
},
{
 "data": {"values": [{"pk": 1, "x": 3243.3, "y": 60.0}, {"pk": 1, "x": 3446.5, "y": 8.0}, {"pk": 2, "x": 3573.9, "y": 60.0}, {"pk": 2, "x": 3471.4, "y": 8.0}]},
 "mark": {"type": "line", "color": "#222", "strokeWidth": 1},
 "encoding": {
  "x": {"field": "x", "type": "quantitative", "scale": {"domain": [1900, 3600], "nice": false, "zero": false}, "axis": null},
  "y": {"field": "y", "type": "quantitative", "scale": {"domain": [-20, 120], "nice": false, "zero": false}, "axis": null},
  "detail": {"field": "pk"}
 }
}
]
}
